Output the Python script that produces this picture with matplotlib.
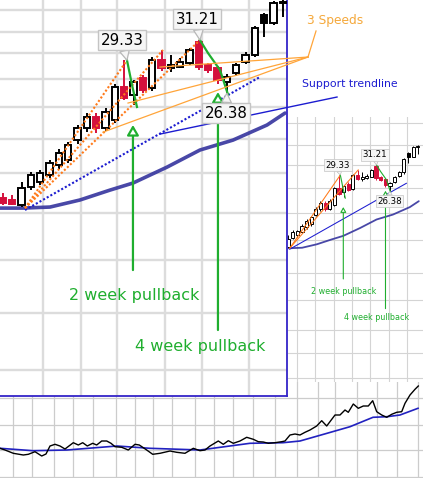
import numpy as np
import matplotlib
matplotlib.use('Agg')
import matplotlib.pyplot as plt

W, H = 423, 478

# ---- daily candles (bar index 0..30) ----
opens  = [19.2, 19.1, 18.78, 19.87, 20.18, 20.60, 21.25, 21.58, 22.94, 23.78, 24.65,
          23.78, 24.40, 27.04, 26.35, 27.74, 26.90, 29.35, 28.60, 28.75, 29.05, 31.05,
          28.90, 28.60, 27.45, 28.17, 29.20, 29.80, 33.71, 32.85, 34.94]
highs  = [19.5, 19.4, 20.18, 20.8, 20.9, 21.6, 22.3, 22.8, 24.0, 24.9, 24.91,
          25.3, 27.3, 29.33, 27.6, 28.0, 29.6, 30.26, 29.80, 29.5, 30.5, 31.21,
          29.1, 28.8, 28.1, 29.1, 30.1, 32.6, 33.88, 35.2, 35.3]
lows   = [18.8, 18.8, 18.7, 19.67, 20.0, 20.4, 21.0, 21.4, 22.7, 23.5, 23.42,
          23.6, 24.2, 25.95, 25.55, 26.5, 26.7, 28.4, 28.31, 28.6, 28.9, 28.5,
          28.2, 27.3, 26.38, 27.9, 29.0, 29.6, 31.53, 32.7, 33.5]
closes = [18.9, 18.85, 19.77, 20.60, 20.71, 21.36, 22.02, 22.59, 23.78, 24.65, 23.78,
          25.03, 27.04, 26.08, 27.45, 26.76, 29.35, 28.60, 28.90, 29.20, 30.26, 28.75,
          28.46, 27.60, 27.88, 28.90, 29.80, 32.35, 32.85, 34.94, 35.12]
kinds  = ['r', 'r', 'w', 'w', 'w', 'w', 'w', 'w', 'w', 'w', 'r',
          'w', 'w', 'r', 'w', 'r', 'w', 'r', 'w', 'w', 'w', 'r',
          'r', 'r', 'w', 'w', 'w', 'w', 'b', 'w', 'w']

# ---- drawn lines (bar index, price) ----
origin_x, origin_p = 2.36, 18.61
speed_end_x = [13.29, 17.15, 21.11]
speed_end_p = [29.33, 30.27, 31.21]
trend_x = [2.36, 27.55]
trend_p = [18.50, 27.86]
support_x = [16.83, 35.8]
support_p = [23.37, 26.19]
ma_x = [-0.32, 2.14, 5.04, 8.25, 11.47, 13.93, 17.58, 21.11, 24.65, 28.30, 30.23]
ma_p = [18.61, 18.61, 18.67, 19.08, 19.67, 20.10, 21.11, 22.25, 22.94, 24.03, 24.93]
pb1_x = [13.29, 13.83, 14.36]
pb1_p = [29.33, 27.18, 25.40]
pb2_x = [21.11, 21.97, 23.26, 24.12]
pb2_p = [31.21, 29.99, 28.46, 26.38]

arrow_x = [13.93, 23.04]
arrow_head = [24.03, 26.59]
arrow_tail = [15.38, 12.79]
pullback_text = ['2 week pullback', '4 week pullback']
pullback_x = [14.04, 21.11]
pullback_p = [14.24, 12.14]

label_text = ['29.33', '31.21', '26.38']
label_pt_x = [13.29, 21.11, 24.0]
label_pt_p = [29.33, 31.21, 26.5]
label_box_x = [12.75, 20.79, 23.9]
label_box_p = [31.21, 33.29, 24.93]

# "3 Speeds" leader lines
hub_x, hub_p = 32.69, 29.62
leader_x = [16.83, 13.4, 10.72]
leader_p = [28.72, 25.71, 23.51]
speeds_lbl_x, speeds_lbl_p = 33.55, 32.09

# ---- lower panel ----
bot_t = [0, 5, 13.3, 23.3, 28.3, 35, 41.7, 46, 50, 55, 60, 65, 73.3, 78.3, 82.7, 87.3,
         92.7, 96.7, 101.7, 106.7, 111, 115, 121.7, 128.3, 135, 139.3, 146.7, 152.7,
         160, 170, 176.7, 185, 193.3, 200, 205, 210,
         218.3, 223.3, 228.3, 233.3, 240, 246.7, 253.3, 258.3, 263.3, 268.3, 275,
         281.7, 285, 290, 295, 300, 305, 310, 316.7, 321.7, 326.7, 335, 340, 345,
         348.3, 353.3, 358.3, 363.3, 368.3, 372.7, 376.7, 381.7, 386.7, 391.7,
         396.7, 401.7, 405, 410, 415, 418.3]
bot_v = [29.7, 28, 24.7, 23, 23.7, 26.3, 22, 24, 32, 33.7, 32, 29, 35.3, 33, 35.3, 32,
         34.7, 33, 37, 37, 34.7, 31.3, 30.7, 28, 33.7, 33, 28, 23.7,
         24.7, 27, 25.7, 24.7, 29.7, 27.3, 28, 32,
         37, 33.7, 37.3, 34.7, 37, 40.7, 38.7, 36.3, 36, 34.7, 35.3,
         36.3, 37, 43, 44, 43, 45.7, 48, 52, 57.3, 52, 63, 63, 68,
         65.7, 74, 69.7, 72, 72, 77.3, 66.3, 63, 60.7, 63.7,
         65.7, 66.3, 74.7, 83, 88.7, 92]
bot_ma_t = [0, 33, 67, 117, 150, 200, 250, 283, 300, 327, 350, 373, 387, 400, 418]
bot_ma_v = [29.7, 27.3, 28, 32, 29.7, 28, 34.7, 35.3, 37, 44.7, 51.3, 60.7, 61.3, 63, 69.7]

# grid positions
main_grid_x = [4.29, 8.36, 12.22, 17.36, 21.33, 26.37]
main_grid_p = [34.23, 31.99, 29.99, 27.68, 25.40, 23.01, 20.73, 18.33, 15.86, 13.47, 11.31]
small_grid_x = [3.93, 7.82, 11.92, 15.81, 19.70, 23.80, 27.69]
small_grid_p = [40.51, 35.34, 31.21, 27.05, 23.16, 19.59, 15.96, 13.49, 11.20, 9.71, 8.31]
bot_grid_t = [13, 32, 54, 73, 93, 116, 135, 153, 172, 195, 214, 233, 253, 275, 297,
              318, 335, 357, 377, 397, 418]
bot_grid_v = [80, 53, 28, 1]

RED = '#d4103c'
ORANGE = '#ff7a1a'
LORANGE = '#ffa53a'
BLUE = '#1c1cd0'
NAVY = '#35349e'
GREEN = '#1fae2e'
BORDER = '#3424c8'

plt.rcParams['font.family'] = ['DejaVu Sans']
fig = plt.figure(figsize=(W / 100, H / 100), dpi=100)


def px_axes(x0, y0, x1, y1, z):
    a = fig.add_axes([x0 / W, 1 - y1 / H, (x1 - x0) / W, (y1 - y0) / H], zorder=z)
    a.set_xticks([]); a.set_yticks([])
    return a


def draw_chart(ax, s, gx, gp, gcol, glw):
    ax.set_yscale('log')
    for x in gx:
        ax.axvline(x, color=gcol, lw=glw, zorder=0)
    for p in gp:
        ax.axhline(p, color=gcol, lw=glw, zorder=0)
    ax.minorticks_off()
    ax.set_xticks([]); ax.set_yticks([])
    # moving average
    ax.plot(ma_x, ma_p, color=NAVY, lw=2.6 * s, alpha=0.9, zorder=2, solid_capstyle='round')
    # blue trend line
    ax.plot(trend_x, trend_p, color=BLUE, lw=1.5 * s, ls=(0, (1, 1)) if s > 0.7 else '-',
            zorder=2)
    # candles
    for i in range(len(opens)):
        o, h, l, c, k = opens[i], highs[i], lows[i], closes[i], kinds[i]
        if k == 'r':
            fc, ec = RED, RED
        elif k == 'b':
            fc, ec = 'black', 'black'
        else:
            fc, ec = 'white', 'black'
        ax.vlines(i, l, h, color=ec, lw=1.4 * s, zorder=3)
        ax.bar(i, max(abs(c - o), 0.05), bottom=min(o, c), width=0.68,
               facecolor=fc, edgecolor=ec, lw=1.4 * s, zorder=4)
    # speed lines
    n_speed = 3 if s > 0.7 else 2
    for j in range(n_speed):
        ax.plot([origin_x, speed_end_x[j]], [origin_p, speed_end_p[j]], color=ORANGE,
                lw=1.5 * s, ls=(0, (1, 1)) if s > 0.7 else '-', zorder=5)
    # green pullback legs
    ax.plot(pb1_x, pb1_p, color=GREEN, lw=1.6 * s, zorder=5)
    ax.plot(pb2_x, pb2_p, color=GREEN, lw=1.6 * s, zorder=5)
    # arrows
    for j in range(2):
        ax.annotate('', xy=(arrow_x[j], arrow_head[j]), xytext=(arrow_x[j], arrow_tail[j]),
                    arrowprops=dict(arrowstyle='-|>,head_length=0.6,head_width=0.35',
                                    ec=GREEN, fc='white', lw=1.6 * s, shrinkA=0, shrinkB=0,
                                    mutation_scale=10 * s), zorder=6)
        ax.text(pullback_x[j], pullback_p[j], pullback_text[j], color=GREEN,
                fontsize=11.5 * s, ha='center', va='center', zorder=6)
    # price callouts
    for j in range(3):
        ax.annotate(label_text[j], xy=(label_pt_x[j], label_pt_p[j]),
                    xytext=(label_box_x[j], label_box_p[j]), ha='center', va='center',
                    fontsize=10.8 * s if s > 0.7 else 6.2, color='black', zorder=7,
                    bbox=dict(boxstyle='square,pad=0.18', fc='#f6f6f6', ec='#c4c4c4',
                              lw=1.0 * s),
                    arrowprops=dict(arrowstyle='wedge,tail_width=0.7,shrink_factor=0.5',
                                    fc='#f6f6f6', ec='#b8b8b8', lw=0.9 * s,
                                    mutation_scale=10 * s, shrinkA=0, shrinkB=0))


# lower panel
ax_bot = px_axes(0, 380, W, H, 1)
ax_bot.set_xlim(0, W)
ax_bot.set_ylim(0, 98)
for t in bot_grid_t:
    ax_bot.axvline(t, color='#cccccc', lw=0.9, zorder=0)
for v in bot_grid_v:
    ax_bot.axhline(v, color='#cccccc', lw=0.9, zorder=0)
ax_bot.plot(bot_ma_t, bot_ma_v, color='#2222c0', lw=1.2, zorder=2)
ax_bot.plot(bot_t, bot_v, color='black', lw=1.0, zorder=3)
for sp in ax_bot.spines.values():
    sp.set_visible(False)

# small overview chart
ax_s = px_axes(288, 117, W, 382, 2)
draw_chart(ax_s, 0.5, small_grid_x, small_grid_p, '#d4d4d4', 0.8)
ax_s.set_xlim(1.99, 31.14)
ax_s.set_ylim(8.11, 42.05)
for sp in ax_s.spines.values():
    sp.set_visible(False)

# main chart
ax = px_axes(0, 0, 287, 396, 3)
draw_chart(ax, 1.0, main_grid_x, main_grid_p, '#dcdcdc', 1.7)
ax.set_xlim(-0.32, 30.44)
ax.set_ylim(10.44, 35.30)
ax.spines['left'].set_visible(False)
ax.spines['top'].set_visible(False)
ax.spines['right'].set_color(BORDER)
ax.spines['bottom'].set_color(BORDER)
ax.spines['right'].set_linewidth(1.3)
ax.spines['bottom'].set_linewidth(1.3)

# support trendline and its label
ax.plot(support_x, support_p, color=BLUE, lw=1.0, zorder=5, clip_on=False)
ax.text(32.05, 27.26, 'Support trendline', color=BLUE, fontsize=7.8,
        ha='left', va='center', zorder=8)
# "3 Speeds" label with leader lines
for j in range(3):
    ax.plot([hub_x, leader_x[j]], [hub_p, leader_p[j]], color=LORANGE, lw=0.9,
            zorder=5, clip_on=False)
ax.plot([hub_x, speeds_lbl_x], [hub_p, speeds_lbl_p], color=LORANGE, lw=0.9,
        zorder=5, clip_on=False)
ax.text(32.58, 33.19, '3 Speeds', color='#f5a83a', fontsize=8.8,
        ha='left', va='center', zorder=8)

fig.savefig('out.png', dpi=100)
